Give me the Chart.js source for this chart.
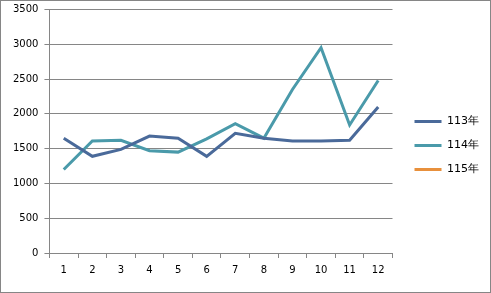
<!DOCTYPE html>
<html lang="zh-Hant">
<head>
<meta charset="UTF-8">
<title>113-115年</title>
<script src="https://cdn.jsdelivr.net/npm/chart.js@4.4.0/dist/chart.umd.min.js"></script>
<style>
  html, body { margin: 0; padding: 0; background: #fff; }
  .box {
    width: 491px; height: 293px;
    box-sizing: border-box;
    border: 1px solid #868686;
    position: relative;
  }
</style>
</head>
<body>
<div class="box">
  <canvas id="chart" width="489" height="291"></canvas>
</div>
<script>
const months = ["1", "2", "3", "4", "5", "6", "7", "8", "9", "10", "11", "12"];
const y113 = [1650, 1390, 1490, 1680, 1650, 1390, 1720, 1650, 1610, 1610, 1620, 2100];
const y114 = [1200, 1610, 1620, 1470, 1450, 1640, 1860, 1650, 2350, 2950, 1840, 2480];
const y115 = [];

const gridGray = "#868686";
const font = { family: "DejaVu Sans", size: 10 };

// push the legend a bit away from the plot, like the original
const legendShift = {
  id: "legendShift",
  afterLayout(chart) {
    chart.legend.left += 9;
    chart.legend.right += 9;
    chart.legend.top += 4;
    chart.legend.bottom += 4;
  }
};

const ctx = document.getElementById("chart").getContext("2d");
new Chart(ctx, {
  type: "line",
  data: {
    labels: months,
    datasets: [
      { label: "113年", data: y113, borderColor: "#4A6A9A", backgroundColor: "#4A6A9A" },
      { label: "114年", data: y114, borderColor: "#4A9AAA", backgroundColor: "#4A9AAA" },
      { label: "115年", data: y115, borderColor: "#E8903C", backgroundColor: "#E8903C" }
    ]
  },
  plugins: [legendShift],
  options: {
    responsive: false,
    animation: false,
    layout: { padding: { top: 0, left: 6, right: 10, bottom: 10 } },
    elements: {
      line: { borderWidth: 3, tension: 0 },
      point: { radius: 0 }
    },
    plugins: {
      legend: {
        position: "right",
        align: "center",
        labels: {
          color: "#000",
          font: { family: "DejaVu Sans", size: 11 },
          boxWidth: 27,
          boxHeight: 3,
          padding: 13,
          generateLabels(chart) {
            const items = Chart.defaults.plugins.legend.labels.generateLabels(chart);
            items.forEach(it => { it.lineWidth = 0; });
            return items;
          }
        }
      },
      tooltip: { enabled: false }
    },
    scales: {
      x: {
        offset: true,
        grid: {
          offset: true,
          drawOnChartArea: false,
          drawTicks: true,
          tickLength: 5,
          color: gridGray
        },
        border: { color: gridGray },
        ticks: { color: "#000", font: font, padding: 6, maxRotation: 0 }
      },
      y: {
        min: 0,
        max: 3500,
        ticks: {
          stepSize: 500, color: "#000", padding: 6,
          font: { family: "DejaVu Sans", size: 10, lineHeight: 0.5 },
          callback: v => String(v)
        },
        grid: { color: gridGray, tickLength: 5 },
        border: { color: gridGray }
      }
    }
  }
});
</script>
</body>
</html>
